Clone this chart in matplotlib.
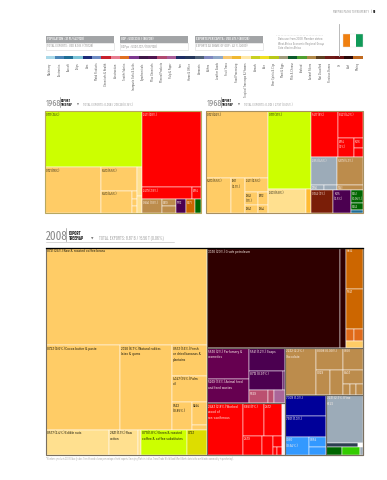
import matplotlib
matplotlib.use("Agg")
import matplotlib.pyplot as plt
from matplotlib.patches import Rectangle

COND = ['Barlow Condensed', 'Liberation Sans', 'DejaVu Sans']
XCOND = ['Fira Sans Extra Condensed', 'Barlow Condensed', 'Liberation Sans', 'DejaVu Sans']
plt.rcParams['font.family'] = COND

# ---------- palette ----------
LIME, RED, ORG, LGT, TAN = '#CCFF00', '#FF0000', '#FFCC66', '#FFE08F', '#BC8C4C'
DPUR, MORG, DGRN, GOLD, GREY = '#4B0050', '#CC6600', '#006600', '#FFBB33', '#9CABB8'
DRED, BLUE, OIL, PUR, PINK = '#7A1E08', '#000099', '#2F0000', '#660050', '#BB5070'
LPUR, LBLU, DSLT, BGRN, YEL, EORG = '#AA6699', '#3399FF', '#2C3E50', '#33CC00', '#DDDD00', '#E06A1A'

# ---------- category strip ----------
strip_labels = ["Machinery", "Electronics", "Aircraft", "Ships", "Cars", "Metal Products",
                "Chemicals & Health", "Construction", "Textile Fabrics", "Inorganic Salts & Acids",
                "Agrochemicals", "Misc Chemicals", "Mineral Products", "Pulp & Paper", "Iron",
                "Home & Office", "Garments", "Boilers", "Leather Goods", "Fruit Trees", "Food Processing",
                "Tropical Treecrops & Flowers", "Cereals", "Rice", "Beer Spirits & Cigs",
                "Meat & Eggs", "Milk & Cheese", "Seafood", "Animal Fibers", "Not Classified",
                "Precious Stones", "Oil", "Coal", "Mining"]
strip_colors = ['#A8D8E8', '#4A86B8', '#1F6E96', '#7CC4D8', '#1B2A78', '#6E8CC4', '#C8202C', '#E87C90',
                '#E07020', '#7E3A90', '#3E1848', '#4E1650', '#B04A70', '#A85C98', '#1E2E66', '#24365C',
                '#4E6078', '#8088C0', '#90A8C8', '#F8C870', '#F0B830', '#FFE8A8', '#C8D020', '#F0E020',
                '#B8C818', '#A09C7C', '#0C5A2C', '#50A030', '#B08848', '#5E4020', '#701C18', '#6A1414',
                '#280808', '#C06A20']

L = 0  # a leaf; consumed in order from the lists below

# ---------- 1968 left treemap ----------
left68_values = [34.1, 16.2, 5.4, 4.3, .23, .23, .23, .9, .55,
                 28.2, 3.8, .68, 1.76, .62, .61, .88, .79, .53]
left68_colors = [LIME, ORG, ORG, ORG, ORG, ORG, ORG, LGT, LGT,
                 RED, RED, RED, TAN, TAN, TAN, DPUR, MORG, DGRN]
left68_labels = ["0711 (34%)", "0721 (16%)", "6513 (5.5%)", "6513 (4.5%)", "", "", "", "", "",
                 "2471 (28%)", "2479 (3.8%)", "6354", "0540 (1.8%)", "0819", "", "5712", "0571", ""]
left68_tree = ('h',
               ('v', L, ('h', L, ('v', L, ('h', L, ('v', L, L, L))), ('v', L, L))),
               ('v', ('v', L, ('h', L, L)), ('h', L, ('v', L, L), L, L, L)))

# ---------- 1968 right treemap ----------
right68_values = [25.8, 5.5, 3.1, 2.0, 1.06, .65, .77, .48, 21.3, 5.8, .75,
                  7.8, 4.2, 1.9, .52, .52, 4.5, .45, .45, 4.4, .9, 3.2, 2.5, .99, .53, .23]
right68_colors = [ORG] * 8 + [LIME, LGT, GOLD,
                  RED, RED, RED, RED, RED, GREY, GREY, GREY, TAN, TAN, DRED, DPUR, DGRN, DGRN, '#1F6E96']
right68_labels = ["0721 (26%)", "6213 (5.5%)", "1301\n(3.1%)", "2471 (2.5%)", "4242\n(1%)", "4243",
                  "6212", "4244", "0711 (21%)", "2631 (5.8%)", "",
                  "5417 (8%)", "8421 (4.2%)", "6354\n(2%)", "5416", "", "2851 (4.5%)", "2860", "",
                  "6879 (5.3%)", "6741", "0342 (3%)", "5415\n(2.5%)", "0541\n(0.95%)", "0542", ""]
right68_tree = ('h',
                ('v', L, ('h', L, L, ('v', L, ('h', ('v', L, L), ('v', L, L))))),
                ('v', L, ('h', L, L)),
                ('v', ('h', L, ('v', L, ('h', L, ('v', L, L)))),
                 ('h', ('v', L, ('h', L, L)), ('v', L, L)),
                 ('h', L, L, ('v', L, L, L))))

# ---------- 2008 treemap ----------
big08_values = [23.8, 9.6, 6.7, 1.6, 1.4, .85, .5, .11, 2.4, 1.1, .11, 1.75, .75,
                20.3, .87, 1.06, 1.04, .155, .155, .18,
                2.0, 1.56, 1.26, .99, .06, .365, .12, .22,
                2.84, 1.06, .9, .55, .32, .15, .055, .055, .24,
                2.22, .9, .66, .53, .5, .42, .11, .11, .11,
                1.3, 1.3, .66, .25, .2,
                2.72, .2, .03, .2, .22, .03]
big08_colors = [ORG] * 8 + [LGT, LGT, LGT, LIME, YEL,
                OIL, OIL, MORG, MORG, EORG, EORG, ORG,
                PUR, PUR, DPUR, DPUR, DPUR, PINK, PINK, LPUR,
                RED, RED, RED, RED, RED, RED, RED, RED, '#FBEFEF',
                TAN, TAN, TAN, TAN, TAN, TAN, TAN, TAN, TAN,
                BLUE, BLUE, LBLU, LBLU, LBLU,
                GREY, DSLT, 'white', DGRN, BGRN, GREY]
big08_labels = ["0721 (24%) Raw & roasted coffee beans",
                "0723 (9.6%) Cocoa butter & paste",
                "2320 (6.7%) Natural rubber,\nlatex & gums",
                "0573 (1.6%) Fresh\nor dried bananas &\nplantains",
                "4347 (1.5%) Palm\noil",
                "0522\n(0.85%)", "4244", "",
                "0577 (2.4%) Edible nuts", "2631 (1.1%) Raw\ncotton", "",
                "0711 (1.8%) Green & roasted\ncoffee & coffee substitutes", "0723",
                "3330 (20%) Crude petroleum", "", "6812", "5741", "", "", "",
                "5530 (2%) Perfumery &\ncosmetics", "5269 (1.5%) Animal feed\nand feed wastes",
                "5541 (1.2%) Soaps", "8712 (0.97%)", "", "5529", "", "",
                "2483 (2.8%) Worked\nwood of\nnon-coniferous", "6841 (1%)", "2472", "2479", "", "", "", "", "",
                "2232 (2.2%)\nChocolate", "8008 (0.90%)", "0801", "0029", "", "6403", "", "", "",
                "7008 (1.3%)", "7601 (1.3%)", "0950\n(0.64%)", "0854", "",
                "2231 (2.7%) Fine\nKELS", "", "", "", "", ""]
big08_tree = ('h',
              ('v', L,
               ('h', L, L, ('v', L, L, ('h', L, ('v', L, L)))),
               ('h', L, L, L, L, L)),
              ('v',
               ('H', L, L, ('v', L, L, ('h', L, L), L)),
               ('h',
                ('v',
                 ('H', ('v', L, L), ('v', L, ('h', L, L), ('h', L, L, L))),
                 ('H', L, ('v', ('h', L, L), ('h', L, L, ('v', L, ('h', L, L)))), L)),
                ('v',
                 ('H', L, ('v', ('h', L, L), ('h', L, L, ('v', L, ('h', L, L, L))))),
                 ('h',
                  ('V', ('v', L, L), ('h', L, ('v', L, L))),
                  ('V', L, ('h', L, L), ('h', L, L, L)))))))

DARK_CELLS = (RED, OIL, PUR, DPUR, TAN, BLUE, DSLT, DRED, DGRN, PINK, LBLU, GREY, MORG, LPUR)


def leaf_count(node):
    if node == L:
        return 1
    return sum(leaf_count(c) for c in node[1:])


def draw_tree(ax, node, box, start, values, colors, labels, fs, outlines):
    """Slice-and-dice layout: each child's share of the box follows the value sum of its leaves."""
    x0, y0, x1, y1 = box
    if node == L:
        ax.add_patch(Rectangle((x0, y0), x1 - x0, y1 - y0, facecolor=colors[start],
                               edgecolor='white', linewidth=0.35, zorder=2))
        if labels[start]:
            dark = colors[start] in DARK_CELLS
            ax.text(x0 + 1, y0 + 1.3, labels[start], fontsize=fs, va='top', ha='left',
                    linespacing=1.5, color='#FBEFE8' if dark else '#1A1A10', zorder=4)
        return
    kind = node[0]
    idx = start
    spans = []
    for c in node[1:]:
        n = leaf_count(c)
        spans.append((c, idx, sum(values[idx:idx + n])))
        idx += n
    whole = sum(s for _, _, s in spans)
    horizontal = kind in 'hH'
    pos = x0 if horizontal else y0
    length = (x1 - x0) if horizontal else (y1 - y0)
    for c, i, s in spans:
        step = length * s / whole
        sub = (pos, y0, pos + step, y1) if horizontal else (x0, pos, x1, pos + step)
        draw_tree(ax, c, sub, i, values, colors, labels, fs, outlines)
        pos += step
    if kind.isupper():
        outlines.append(box)


def treemap(ax, tree, box, values, colors, labels, fs, edge):
    outlines = []
    draw_tree(ax, tree, box, 0, values, colors, labels, fs, outlines)
    for (x0, y0, x1, y1) in outlines:
        ax.add_patch(Rectangle((x0, y0), x1 - x0, y1 - y0, fill=False,
                               edgecolor='#6F6A60', linewidth=0.8, zorder=5))
    x0, y0, x1, y1 = box
    ax.add_patch(Rectangle((x0, y0), x1 - x0, y1 - y0, fill=False,
                           edgecolor=edge, linewidth=0.8, zorder=6))


fig = plt.figure(figsize=(3.87, 4.80), dpi=100)
ax = fig.add_axes([0, 0, 1, 1])
ax.set_xlim(0, 387)
ax.set_ylim(480, 0)
ax.axis('off')

# ---------- page header ----------
ax.text(369, 12, "MAPPING PATHS TO PROSPERITY", fontsize=2.4, color='#8A8A8A', ha='right', va='center')
ax.text(371, 12, "|", fontsize=2.6, color='#555555', ha='center', va='center')
ax.text(372.5, 12, "89", fontsize=2.6, color='#333333', ha='left', va='center', weight='bold')

box_titles = ["POPULATION : 21 M / (47/128)", "GDP : USD 23 B / (86/128)", "EXPORTS PER CAPITA : USD 419 / (80/128)"]
box_subs = ["TOTAL EXPORTS : USD 8.9 B / (71/128)", "GDPpc : USD 1,137 / (106/128)", "EXPORTS AS SHARE OF GDP : 42 % (2009)"]
for x0, title, sub in zip([45.5, 120, 195], box_titles, box_subs):
    ax.add_patch(Rectangle((x0, 36), 68, 6.5, facecolor='#A2A4A6', edgecolor='none'))
    ax.add_patch(Rectangle((x0, 42.5), 68, 7.5, facecolor='white', edgecolor='#D8D8D8', linewidth=0.4))
    ax.text(x0 + 1.2, 39.3, title, fontsize=2.7, color='white', va='center', weight='medium')
    ax.text(x0 + 1.2, 46.4, sub, fontsize=2.7, color='#8C8C8C', va='center')

ax.plot([276, 323], [35, 35], color='#C8C8C8', lw=0.4, ls=':')
note_lines = ["Data use from 2008. Member states:", "West Africa Economic Regional Group", "Cote d'Ivoire Africa"]
for y, line in zip([39.5, 44, 48.3], note_lines):
    ax.text(278, y, line, fontsize=2.6, color='#8A8A8A', va='center')

ax.plot([338.5, 338.5], [24, 56], color='#B0B0B0', lw=0.6)
for x0, c in zip([343, 349.7, 356.3], ['#F08010', 'white', '#109A58']):
    ax.add_patch(Rectangle((x0, 33.5), 6.7, 13.5, facecolor=c, edgecolor='none'))
ax.add_patch(Rectangle((343, 33.5), 20, 13.5, fill=False, edgecolor='#E4E4E4', linewidth=0.3))

# ---------- category strip ----------
strip_w = (362.7 - 45.5) / len(strip_labels)
for i, (name, c) in enumerate(zip(strip_labels, strip_colors)):
    ax.add_patch(Rectangle((45.5 + i * strip_w, 56), strip_w, 3, facecolor=c, edgecolor='none'))
    ax.text(45.5 + (i + .5) * strip_w, 62.5, name, rotation=90, fontsize=2.5, color='#505050',
            ha='center', va='top')


# ---------- panel headings ----------
def heading(x, y_base, year, total_text, year_fs, bar_dx, word_dx, word_fs, arrow_dx, text_dx, text_fs, top):
    ax.text(x, y_base, year, fontsize=year_fs, color='#8C8C8C', ha='left', va='baseline', family=XCOND)
    ax.plot([x + bar_dx] * 2, [top, y_base + 1], color='#777777', lw=0.4)
    gap = word_fs * 1.5
    ax.text(x + word_dx, y_base - gap - 0.4, "EXPORT", fontsize=word_fs, color='#222222',
            weight='bold', va='baseline')
    ax.text(x + word_dx, y_base - 0.4, "TREEMAP", fontsize=word_fs, color='#222222',
            weight='bold', va='baseline')
    ax.text(x + arrow_dx, y_base - 1.2, "\u25BC", fontsize=word_fs * 0.7, color='#777777',
            ha='center', va='center', family=['DejaVu Sans'])
    ax.text(x + text_dx, y_base - 1.3, total_text, fontsize=text_fs, color='#9A9A9A', va='center')


heading(45.5, 106, "1968", "TOTAL EXPORTS: 0.36B / 238.2B (0.15%)", 6.4, 14, 15.5, 2.6, 32, 37.5, 2.7, 96.5)
heading(206.5, 106, "1968", "TOTAL EXPORTS: 0.01B / 27.9T (0.05%)", 6.4, 14, 15.5, 2.6, 32, 37.5, 2.7, 96.5)
heading(45.5, 240, "2008", "TOTAL EXPORTS: 8.87 B / 15.56 T (0.06%)", 8.6, 20.5, 23.5, 3.3, 47, 53.5, 3.4, 228)
ax.plot([45.5, 173.5], [242.3, 242.3], color='#B8B8B8', lw=0.4)

# ---------- treemaps ----------
treemap(ax, left68_tree, (45.3, 111.3, 201, 213.3), left68_values, left68_colors, left68_labels, 2.6, '#B8A860')
treemap(ax, right68_tree, (206.3, 111.3, 362.7, 213.3), right68_values, right68_colors, right68_labels, 2.6, '#A89060')
treemap(ax, big08_tree, (46, 248, 362.7, 455), big08_values, big08_colors, big08_labels, 3.1, '#7A7060')
ax.plot([46, 362.7], [247.5, 247.5], color='black', lw=0.9, zorder=7)

# ---------- footer ----------
ax.text(46, 459, "*Numbers: products 2008 Value $ sales. Trend-based volume percentage of total exports. "
        "Emerging Markets in blue. Trend Trade World Bank (World Bank, data is the world index commodity in purchasing).",
        fontsize=2.0, color='#A8A8A8', va='center')

fig.savefig("out.png", dpi=100)
